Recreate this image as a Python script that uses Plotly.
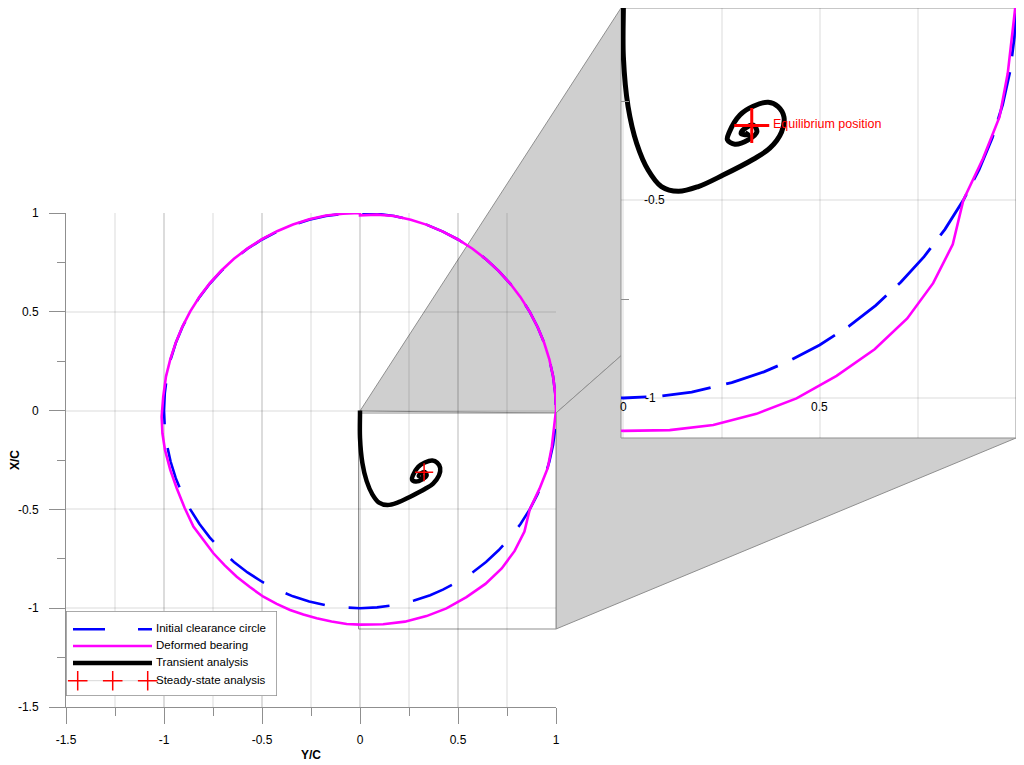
import plotly.graph_objects as go

# chart data
circle_x = [0.276, 0.358, 0.423, 0.5, 0.574, 0.643, 0.707, 0.766, 0.819, 0.866, 0.906, 0.94, 0.966, 0.985, 0.996, 1.0, 0.996, 0.985, 0.966, 0.94,
            0.906, 0.866, 0.819, 0.766, 0.707, 0.643, 0.574, 0.5, 0.423, 0.342, 0.259, 0.174, 0.087, 0.0,
            -0.087, -0.174, -0.259, -0.342, -0.423, -0.5, -0.574, -0.643, -0.707, -0.766, -0.819, -0.866, -0.906, -0.94, -0.966, -0.985, -0.996, -1.0,
            -0.996, -0.985, -0.966, -0.94, -0.906, -0.866, -0.819, -0.766, -0.707, -0.643, -0.574, -0.5,
            -0.423, -0.342, -0.259, -0.174, -0.087, 0.0, 0.087, 0.174, 0.276]
circle_y = [-0.961, -0.934, -0.906, -0.866, -0.819, -0.766, -0.707, -0.643, -0.574, -0.5, -0.423, -0.342, -0.259, -0.174, -0.087, 0.0, 0.087, 0.174, 0.259, 0.342,
            0.423, 0.5, 0.574, 0.643, 0.707, 0.766, 0.819, 0.866, 0.906, 0.94, 0.966, 0.985, 0.996, 1.0,
            0.996, 0.985, 0.966, 0.94, 0.906, 0.866, 0.819, 0.766, 0.707, 0.643, 0.574, 0.5, 0.423, 0.342, 0.259, 0.174, 0.087, 0.0,
            -0.087, -0.174, -0.259, -0.342, -0.423, -0.5, -0.574, -0.643, -0.707, -0.766, -0.819, -0.866,
            -0.906, -0.94, -0.966, -0.985, -0.996, -1.0, -0.996, -0.985, -0.961]

bearing_x = [0.0, 0.118, 0.229, 0.339, 0.441, 0.543, 0.640, 0.723, 0.789, 0.839, 0.866, 0.916, 0.958, 0.979, 0.998, 1.0,
             0.996, 0.985, 0.966, 0.94, 0.906, 0.866, 0.819, 0.766, 0.707, 0.643, 0.574, 0.5, 0.423, 0.342, 0.259, 0.174, 0.087, 0.0, 0.0,
             -0.087, -0.174, -0.259, -0.342, -0.423, -0.5, -0.574, -0.643, -0.707, -0.766, -0.819, -0.866, -0.906, -0.94, -0.968, -0.99, -1.004, -1.012,
             -1.008, -0.995, -0.968, -0.935, -0.895, -0.85, -0.8, -0.748, -0.69, -0.629, -0.562, -0.493, -0.425,
             -0.357, -0.289, -0.221, -0.145, -0.068, 0.0]
bearing_y = [-1.083, -1.081, -1.068, -1.040, -1.001, -0.944, -0.877, -0.799, -0.710, -0.612, -0.5, -0.395, -0.290, -0.18, -0.015, 0.0,
             0.087, 0.174, 0.259, 0.342, 0.423, 0.5, 0.574, 0.643, 0.707, 0.766, 0.819, 0.866, 0.906, 0.94, 0.966, 0.985, 0.992, 0.988, 1.0,
             0.996, 0.987, 0.968, 0.942, 0.908, 0.868, 0.821, 0.768, 0.709, 0.645, 0.576, 0.502, 0.425, 0.344, 0.259, 0.172, 0.07, -0.031,
             -0.115, -0.199, -0.3, -0.393, -0.492, -0.587, -0.655, -0.722, -0.783, -0.841, -0.893, -0.942, -0.978,
             -1.009, -1.032, -1.051, -1.067, -1.08, -1.083]

transient_x = [0.0, 0.0, 0.0, 0.012, 0.034, 0.063, 0.097, 0.14, 0.191, 0.254, 0.331, 0.373, 0.403, 0.409, 0.394, 0.369, 0.331, 0.297,
               0.27, 0.265, 0.284, 0.318, 0.34, 0.331, 0.31, 0.3, 0.318, 0.31]
transient_y = [0.0, -0.016, -0.138, -0.264, -0.357, -0.424, -0.466, -0.478, -0.466, -0.437, -0.397, -0.369, -0.328, -0.29, -0.264, -0.253,
               -0.263, -0.285, -0.328, -0.348, -0.359, -0.348, -0.328, -0.311, -0.319, -0.332, -0.335, -0.33]

steady_x = [0.327]
steady_y = [-0.312]

x_ticks = [-1.5, -1, -0.5, 0, 0.5, 1]
x_labels = ["-1.5", "-1", "-0.5", "0", "0.5", "1"]
y_ticks = [-1.5, -1, -0.5, 0, 0.5, 1]
y_labels = ["-1.5", "-1", "-0.5", "0", "0.5", "1"]

legend_names = ["Initial clearance circle", "Deformed bearing", "Transient analysis", "Steady-state analysis"]

# the page keeps its 8px body margin, so the figure is 8px smaller on each leading side
PAGE_MARGIN = 8
WIDTH, HEIGHT = 1024 - PAGE_MARGIN, 765 - PAGE_MARGIN
BLUE, MAGENTA, RED = "#0000ff", "#ff00ff", "#ff0000"
EDGE = "#8f8f8f"
GRID = "rgba(0,0,0,0.07)"
FONT = dict(family="Liberation Sans, Arial, sans-serif", size=12, color="black")
LEGEND_FONT = dict(family=FONT["family"], size=11.5, color="black")


def px_x(x):
    return (x - PAGE_MARGIN) / WIDTH


def px_y(y):
    return 1 - (y - PAGE_MARGIN) / HEIGHT


# pixel boxes of main plot, zoom window, inset and legend (left, top, right, bottom)
MAIN = (66, 213, 556, 707)
WINDOW = (358.5, 413, 556, 629)
INSET = (621, 8, 1016, 438)
LEGEND = (66, 611, 277, 696)

fig = go.Figure()

# main plot
fig.add_trace(go.Scatter(x=circle_x, y=circle_y, mode="lines", line=dict(color=BLUE, width=2.6, dash="41px,24px"),
                         showlegend=False, xaxis="x", yaxis="y"))
fig.add_trace(go.Scatter(x=bearing_x, y=bearing_y, mode="lines", line=dict(color=MAGENTA, width=2.6),
                         showlegend=False, xaxis="x", yaxis="y"))
fig.add_trace(go.Scatter(x=transient_x, y=transient_y, mode="lines", line=dict(color="black", width=4.5, shape="spline", smoothing=1),
                         showlegend=False, xaxis="x", yaxis="y"))
fig.add_trace(go.Scatter(x=steady_x, y=steady_y, mode="markers",
                         marker=dict(symbol="cross-thin", size=13, line=dict(color=RED, width=1.5)),
                         showlegend=False, xaxis="x", yaxis="y"))

# zoomed inset
fig.add_trace(go.Scatter(x=circle_x, y=circle_y, mode="lines", line=dict(color=BLUE, width=2.8, dash="49px,16px"),
                         showlegend=False, xaxis="x2", yaxis="y2"))
fig.add_trace(go.Scatter(x=bearing_x, y=bearing_y, mode="lines", line=dict(color=MAGENTA, width=2.6),
                         showlegend=False, xaxis="x2", yaxis="y2"))
fig.add_trace(go.Scatter(x=transient_x, y=transient_y, mode="lines", line=dict(color="black", width=5, shape="spline", smoothing=1),
                         showlegend=False, xaxis="x2", yaxis="y2"))
fig.add_trace(go.Scatter(x=steady_x, y=steady_y, mode="markers",
                         marker=dict(symbol="cross-thin", size=25, line=dict(color=RED, width=3)),
                         showlegend=False, xaxis="x2", yaxis="y2"))

# legend samples, drawn on their own small axes so the three plus signs can be kept
fig.add_trace(go.Scatter(x=[7, 86], y=[18.3, 18.3], mode="lines", line=dict(color=BLUE, width=2.6, dash="32px,33px"),
                         showlegend=False, xaxis="x3", yaxis="y3"))
fig.add_trace(go.Scatter(x=[7, 86], y=[35, 35], mode="lines", line=dict(color=MAGENTA, width=2.6),
                         showlegend=False, xaxis="x3", yaxis="y3"))
fig.add_trace(go.Scatter(x=[7, 86], y=[52, 52], mode="lines", line=dict(color="black", width=4.5),
                         showlegend=False, xaxis="x3", yaxis="y3"))
fig.add_trace(go.Scatter(x=[11.7, 46.7, 81.7], y=[69.7, 69.7, 69.7], mode="lines+markers", line=dict(color="#d8d8d8", width=1),
                         marker=dict(symbol="cross-thin", size=14, line=dict(color=RED, width=1.5)),
                         showlegend=False, xaxis="x3", yaxis="y3"))
fig.add_trace(go.Scatter(x=[90, 90, 90, 90], y=[18.3, 35, 52, 69.7], mode="text", text=legend_names,
                         textposition="middle right", textfont=LEGEND_FONT,
                         showlegend=False, xaxis="x3", yaxis="y3"))

# gray zoom connectors, white inset panel and the zoom window frame
connector = dict(type="path", xref="paper", yref="paper", fillcolor="#cfcfcf", line=dict(color=EDGE, width=1), layer="below")
top_path = f"M{px_x(360)},{px_y(411)} L{px_x(INSET[0])},{px_y(INSET[1])} L{px_x(INSET[2])},{px_y(INSET[1])} L{px_x(WINDOW[2])},{px_y(WINDOW[1])} Z"
side_path = f"M{px_x(WINDOW[2])},{px_y(WINDOW[1])} L{px_x(INSET[2])},{px_y(INSET[1])} L{px_x(INSET[2])},{px_y(INSET[3])} L{px_x(WINDOW[2])},{px_y(WINDOW[3])} Z"
fig.add_shape(path=top_path, **connector)
fig.add_shape(path=side_path, **connector)
fig.add_shape(type="rect", xref="paper", yref="paper", layer="below", fillcolor="white", line=dict(color=EDGE, width=1),
              x0=px_x(INSET[0]), x1=px_x(INSET[2]), y0=px_y(INSET[3]), y1=px_y(INSET[1]))
fig.add_shape(type="rect", xref="paper", yref="paper", layer="below", fillcolor="white", line=dict(color=EDGE, width=1),
              x0=px_x(WINDOW[0]), x1=px_x(WINDOW[2]), y0=px_y(WINDOW[3]), y1=px_y(WINDOW[1]))
fig.add_shape(type="rect", xref="x3", yref="y3", layer="below", fillcolor="white", line=dict(color=EDGE, width=1.5),
              x0=0, x1=LEGEND[2] - LEGEND[0], y0=0, y1=LEGEND[3] - LEGEND[1])

# inset labels
fig.add_annotation(x=0.327, y=-0.312, xref="x2", yref="y2", text="Equilibrium position", showarrow=False, xanchor="left",
                   xshift=19, yshift=2, font=dict(family=FONT["family"], size=12.5, color=RED))
fig.add_annotation(x=0, y=-0.5, xref="x2", yref="y2", text="-0.5", showarrow=False, xshift=31, font=FONT)
fig.add_annotation(x=0, y=-1, xref="x2", yref="y2", text="-1", showarrow=False, xshift=27, font=FONT)
fig.add_annotation(x=0, y=-1, xref="x2", yref="y2", text="0", showarrow=False, yshift=-9, font=FONT)
fig.add_annotation(x=0.5, y=-1, xref="x2", yref="y2", text="0.5", showarrow=False, yshift=-9, font=FONT)

axis_style = dict(showline=True, linecolor=EDGE, linewidth=1, ticks="outside", ticklen=16, tickcolor=EDGE, tickwidth=1,
                  showgrid=True, gridcolor=GRID, gridwidth=1.5, zeroline=False, tickfont=FONT, automargin=False)

fig.update_layout(
    width=WIDTH, height=HEIGHT,
    margin=dict(l=0, r=0, t=0, b=0),
    paper_bgcolor="white", plot_bgcolor="rgba(0,0,0,0)",
    showlegend=False,
    font=FONT,
    xaxis=dict(domain=[px_x(MAIN[0]), px_x(MAIN[2])], range=[-1.5, 1], tickvals=x_ticks, ticktext=x_labels, ticklabelstandoff=6,
               title=dict(text="<b>Y/C</b>", font=FONT, standoff=4),
               minor=dict(dtick=0.25, tick0=-1.5, ticks="outside", ticklen=8, tickcolor=EDGE, showgrid=True, gridcolor=GRID, gridwidth=1.5),
               anchor="y", **axis_style),
    yaxis=dict(domain=[px_y(MAIN[3]), px_y(MAIN[1])], range=[-1.5, 1], tickvals=y_ticks, ticktext=y_labels, ticklabelstandoff=8,
               title=dict(text="<b>X/C</b>", font=FONT, standoff=2),
               minor=dict(dtick=0.25, tick0=-1.5, ticks="outside", ticklen=8, tickcolor=EDGE, showgrid=False),
               anchor="x", **axis_style),
    xaxis2=dict(domain=[px_x(INSET[0]), px_x(INSET[2])], range=[-0.006, 1], tickvals=[0, 0.25, 0.5, 0.75, 1], automargin=False,
                showticklabels=False, ticks="", showline=False, showgrid=True, gridcolor=GRID, gridwidth=1.5, zeroline=False, anchor="y2"),
    yaxis2=dict(domain=[px_y(INSET[3]), px_y(INSET[1])], range=[-1.101, -0.015], tickvals=[-1, -0.5], automargin=False,
                showticklabels=False, ticks="", showline=False, showgrid=True, gridcolor=GRID, gridwidth=1.5, zeroline=False, anchor="x2",
                minor=dict(tickvals=[-0.75, -0.25], ticks="inside", ticklen=8, tickcolor=EDGE, showgrid=False)),
    xaxis3=dict(domain=[px_x(LEGEND[0]), px_x(LEGEND[2])], range=[0, LEGEND[2] - LEGEND[0]], visible=False, anchor="y3", automargin=False),
    yaxis3=dict(domain=[px_y(LEGEND[3]), px_y(LEGEND[1])], range=[LEGEND[3] - LEGEND[1], 0], visible=False, anchor="x3", automargin=False),
)

fig.write_html("out.html")
